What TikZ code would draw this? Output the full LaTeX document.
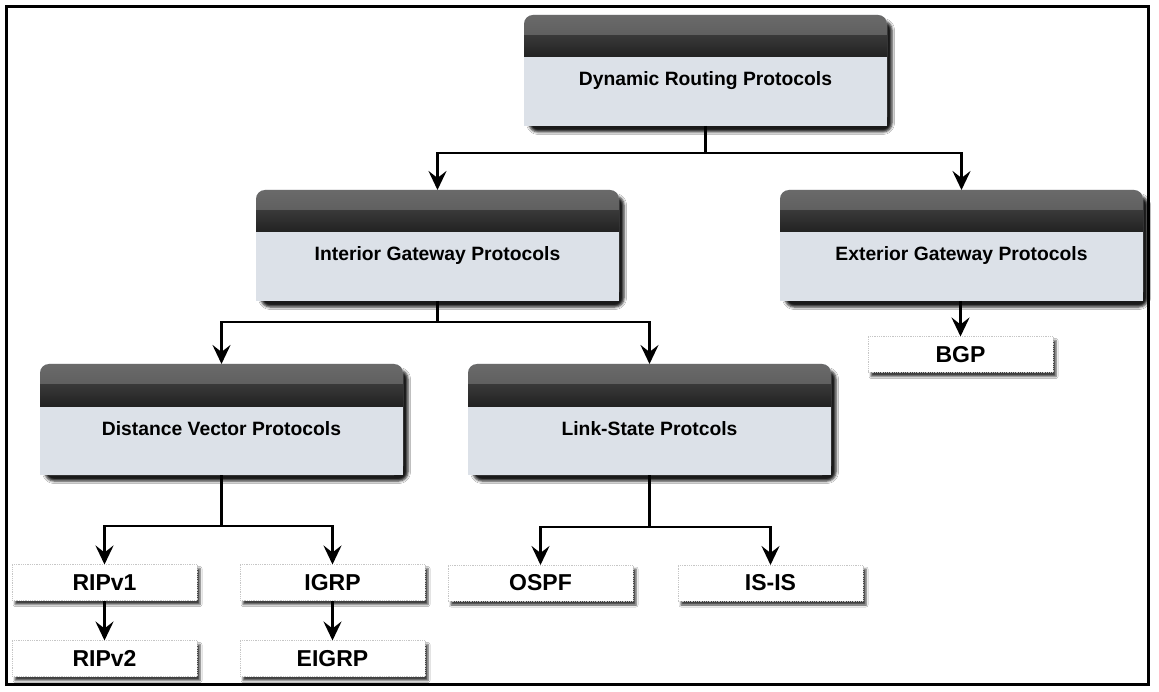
\documentclass[tikz,border=0pt]{standalone}
\usepackage{fontspec}
\setmainfont{Liberation Sans}
\usetikzlibrary{arrows.meta,shadows.blur}
\definecolor{bodyc}{HTML}{DCE1E8}
\definecolor{headtop}{HTML}{6A6A6A}
\definecolor{headmid}{HTML}{525252}
\definecolor{headdark}{HTML}{383838}
\definecolor{headbot}{HTML}{222222}
\tikzset{
  bigbox/.style={rectangle, minimum width=363pt, minimum height=111pt, inner sep=0pt, outer sep=0pt,
    font=\bfseries\fontsize{19.3}{22}\selectfont, text height=31pt, text depth=0pt},
  smallbox/.style={rectangle, minimum width=185pt, minimum height=36pt, inner sep=0pt, outer sep=0pt,
    fill=white, draw=gray!45, densely dotted, line width=0.8pt,
    font=\bfseries\fontsize{23}{26}\selectfont,
    blur shadow={shadow xshift=3pt, shadow yshift=-4pt, shadow blur radius=2pt, shadow opacity=75}},
  conn/.style={line width=2.9pt, black},
  arr/.style={conn, -{Stealth[length=19pt,width=18pt,inset=7pt]}},
  bigshadow/.style={blur shadow={shadow xshift=5pt, shadow yshift=-6pt, shadow blur radius=2.5pt, shadow opacity=90}},
}
\newcommand\MyBigBox[4]{%
  \fill[bodyc, rounded corners=9pt, bigshadow] ({#2-181.5},{#3-55.5}) rectangle ({#2+181.5},{#3+55.5});
  \fill[bodyc] ({#2-181.5},{#3-5}) rectangle ({#2+181.5},{#3+55.5});
  \begin{scope}
    \clip ({#2-181.5},{#3-55.5}) rectangle ({#2+181.5},{#3-13.5});
    \shade[top color=headtop, bottom color=headmid, rounded corners=9pt]
      ({#2-181.5},{#3-55.5}) rectangle ({#2+181.5},{#3-10});
    \shade[top color=headdark, bottom color=headbot]
      ({#2-181.5},{#3-34.5}) rectangle ({#2+181.5},{#3-13.5});
  \end{scope}
  \node[bigbox] (#1) at (#2,#3) {#4};
}
\begin{document}
\begin{tikzpicture}[x=1pt,y=-1pt]
\useasboundingbox (0,0) rectangle (1159,692);
\fill[white] (0,0) rectangle (1159,692);
\draw[line width=3pt] (6,7) rectangle (1148,684);

% big boxes
\MyBigBox{dyn}{705.5}{70.5}{Dynamic Routing Protocols}
\MyBigBox{igp}{437.5}{245.5}{Interior Gateway Protocols}
\MyBigBox{egp}{961.5}{245.5}{Exterior Gateway Protocols}
\MyBigBox{dv}{221.5}{419.5}{Distance Vector Protocols}
\MyBigBox{ls}{649.5}{419.5}{Link-State Protcols}

% small boxes
\node[smallbox] (ripv1) at (104.5,582.5) {RIPv1};
\node[smallbox] (ripv2) at (104.5,658.5) {RIPv2};
\node[smallbox] (igrp)  at (332.5,582.5) {IGRP};
\node[smallbox] (eigrp) at (332.5,658.5) {EIGRP};
\node[smallbox] (ospf)  at (540.5,583) {OSPF};
\node[smallbox] (isis)  at (770.5,583) {IS-IS};
\node[smallbox] (bgp)   at (960.5,354.5) {BGP};

% connectors
\draw[conn] (dyn.south) -- ++(0,27) coordinate (j1);
\draw[arr] (j1) -| (igp.north);
\draw[arr] (j1) -| (egp.north);

\draw[conn] (igp.south) -- ++(0,21) coordinate (j2);
\draw[arr] (j2) -| (dv.north);
\draw[arr] (j2) -| (ls.north);

\draw[conn] (dv.south) -- ++(0,51) coordinate (j3);
\draw[arr] (j3) -| (ripv1.north);
\draw[arr] (j3) -| (igrp.north);

\draw[conn] (ls.south) -- ++(0,52) coordinate (j4);
\draw[arr] (j4) -| (ospf.north);
\draw[arr] (j4) -| (isis.north);

\draw[arr] (ripv1.south) -- (ripv2.north);
\draw[arr] (igrp.south) -- (eigrp.north);
\draw[arr] (egp.south -| bgp.north) -- (bgp.north);
\end{tikzpicture}
\end{document}
